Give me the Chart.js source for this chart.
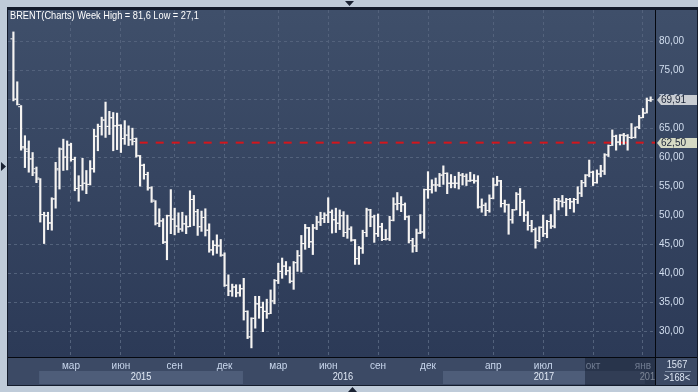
<!DOCTYPE html>
<html>
<head>
<meta charset="utf-8">
<title>BRENT week</title>
<script src="https://cdn.jsdelivr.net/npm/chart.js@4.4.1/dist/chart.umd.min.js"></script>
<style>
  html, body { margin: 0; padding: 0; background: #bfcbd9; }
  canvas { display: block; }
</style>
</head>
<body>
<canvas id="brentChart" width="698" height="392"></canvas>
<script>
// Weekly OHLC bars, oldest first
const barOpen = [
  80.4, 70.0, 68.7, 61.8, 61.4, 59.7, 58.0, 56.2, 50.1, 49.9,
  48.7, 52.8, 57.8, 61.4, 60.0, 62.1, 59.6, 54.6, 55.1, 55.5,
  55.3, 58.0, 63.6, 65.3, 66.4, 65.3, 66.8, 65.4, 65.5, 63.2,
  63.8, 63.0, 62.7, 60.2, 58.6, 57.0, 54.7, 52.4, 48.6, 49.0,
  45.4, 49.9, 49.3, 48.1, 47.6, 48.5, 48.0, 52.7, 50.6, 48.0,
  49.6, 47.4, 44.0, 44.8, 44.7, 43.1, 37.9, 36.9, 37.6, 36.6,
  37.3, 33.4, 29.0, 32.2, 34.7, 34.1, 33.4, 33.0, 35.2, 38.7,
  40.3, 41.2, 40.4, 38.6, 41.8, 43.0, 45.1, 47.8, 45.4, 47.8,
  48.8, 49.4, 50.0, 50.5, 49.2, 48.6, 49.9, 47.0, 47.6, 45.7,
  42.5, 44.3, 47.0, 50.9, 49.7, 46.8, 48.0, 45.8, 45.9, 49.1,
  51.9, 52.0, 51.8, 49.7, 45.6, 44.7, 46.9, 47.1, 54.4, 54.4,
  55.2, 55.2, 56.9, 57.2, 55.5, 55.5, 55.5, 56.9, 56.7, 55.9,
  56.0, 55.9, 51.4, 51.7, 50.8, 52.9, 55.2, 55.9, 52.0, 51.8,
  49.2, 50.9, 53.6, 52.2, 50.0, 48.2, 47.5, 45.6, 47.9, 46.8,
  48.9, 48.1, 52.5, 52.4, 52.2, 52.7, 52.3, 52.7, 53.8, 55.6,
  56.9, 57.4, 55.6, 57.1, 57.6, 60.4, 62.0, 63.6, 62.6, 63.8,
  63.7, 63.4, 63.4, 65.2, 66.8, 67.6, 69.8
];
const barHigh = [
  81.6, 73.0, 68.9, 63.7, 62.8, 60.8, 58.3, 56.3, 50.5, 50.5,
  53.0, 59.1, 61.6, 63.1, 62.8, 62.4, 60.0, 56.8, 59.8, 57.7,
  59.4, 64.8, 65.7, 66.9, 69.5, 67.9, 67.7, 67.6, 65.6, 66.3,
  65.4, 65.0, 63.3, 60.3, 58.8, 57.4, 54.9, 52.5, 51.1, 49.4,
  50.0, 54.4, 51.2, 50.4, 50.5, 49.9, 54.2, 53.4, 51.0, 50.7,
  51.1, 48.5, 45.6, 46.6, 45.8, 43.5, 39.7, 38.1, 38.0, 38.0,
  39.1, 33.5, 32.3, 36.0, 36.0, 35.0, 35.5, 37.1, 38.9, 41.7,
  42.6, 42.0, 41.1, 42.0, 43.9, 46.5, 48.4, 47.9, 48.4, 49.8,
  50.5, 50.4, 53.0, 50.9, 51.2, 50.9, 50.6, 50.0, 48.0, 45.8,
  44.6, 47.4, 51.2, 51.0, 50.0, 50.2, 48.6, 47.5, 49.8, 53.0,
  53.9, 53.2, 52.1, 49.9, 46.0, 47.6, 50.1, 54.5, 57.5, 56.1,
  56.4, 57.2, 58.5, 57.3, 57.0, 56.7, 57.4, 57.2, 57.1, 57.4,
  57.0, 56.8, 52.8, 52.1, 53.5, 56.4, 56.7, 56.0, 52.6, 51.9,
  51.0, 53.9, 54.6, 52.6, 50.6, 49.1, 47.8, 48.0, 50.0, 49.1,
  50.1, 52.9, 52.9, 53.4, 52.9, 52.9, 52.9, 54.9, 56.0, 57.0,
  59.5, 57.6, 57.8, 58.6, 60.6, 62.1, 64.7, 63.8, 63.9, 64.1,
  63.9, 65.8, 65.2, 67.2, 68.4, 70.2, 70.4
];
const barLow = [
  69.7, 69.0, 61.2, 58.2, 57.4, 56.8, 55.6, 48.8, 45.1, 47.5,
  47.4, 51.2, 54.5, 57.7, 57.8, 59.3, 54.2, 52.4, 54.3, 53.7,
  55.2, 57.4, 61.1, 63.8, 63.4, 63.9, 61.1, 61.3, 60.8, 62.2,
  62.0, 62.1, 60.0, 55.0, 56.2, 54.3, 52.2, 48.3, 48.0, 45.1,
  42.3, 46.8, 46.6, 47.0, 47.2, 46.8, 48.0, 48.2, 46.5, 47.2,
  46.4, 43.6, 43.1, 43.4, 42.9, 37.7, 36.1, 36.0, 35.9, 36.0,
  31.9, 28.7, 27.1, 30.5, 32.2, 29.9, 32.2, 33.0, 34.7, 38.2,
  39.1, 39.7, 38.3, 37.2, 40.3, 40.2, 44.1, 44.4, 43.2, 47.5,
  48.2, 48.7, 48.7, 46.9, 47.0, 47.5, 46.3, 46.0, 45.5, 41.5,
  41.5, 43.4, 46.3, 48.0, 45.3, 46.3, 45.6, 45.7, 45.6, 49.0,
  50.9, 50.6, 49.2, 45.2, 43.6, 43.7, 46.8, 46.0, 52.9, 53.8,
  54.1, 54.9, 55.3, 53.7, 54.7, 54.7, 54.5, 55.2, 55.1, 55.8,
  55.5, 51.2, 50.5, 49.9, 50.5, 52.8, 55.1, 51.4, 50.5, 46.7,
  48.6, 50.9, 49.9, 48.9, 47.4, 47.1, 44.3, 45.4, 46.3, 46.1,
  47.7, 47.8, 50.9, 51.4, 49.9, 51.1, 50.5, 52.0, 53.2, 54.9,
  56.6, 55.1, 55.5, 56.6, 57.0, 60.1, 62.0, 61.2, 62.1, 62.2,
  61.2, 63.2, 63.3, 64.9, 66.8, 67.6, 69.6
];
const barClose = [
  70.0, 69.1, 61.6, 61.0, 59.7, 57.3, 56.4, 50.1, 49.9, 48.6,
  52.8, 58.0, 61.4, 60.0, 62.1, 59.6, 54.6, 55.1, 55.5, 55.3,
  58.0, 63.6, 65.3, 66.4, 65.3, 66.8, 65.4, 65.5, 63.2, 63.8,
  63.0, 63.2, 60.3, 58.6, 57.0, 54.7, 52.6, 48.6, 49.0, 45.3,
  49.9, 49.3, 48.1, 47.6, 48.5, 48.0, 52.7, 50.6, 48.0, 49.6,
  47.4, 44.0, 44.8, 44.7, 43.1, 37.9, 36.9, 37.6, 36.6, 37.3,
  33.4, 29.0, 32.2, 34.7, 34.1, 33.4, 33.0, 35.2, 38.7, 40.3,
  41.2, 40.4, 38.6, 41.8, 43.0, 45.1, 47.8, 45.4, 47.8, 48.8,
  49.4, 50.0, 50.5, 49.2, 48.6, 49.9, 47.0, 47.6, 45.7, 42.5,
  44.3, 47.0, 50.9, 49.7, 46.8, 48.0, 45.8, 45.9, 49.1, 51.9,
  52.0, 51.8, 49.7, 45.6, 44.7, 46.9, 47.1, 54.4, 54.4, 55.2,
  55.2, 56.9, 57.2, 55.5, 55.5, 55.5, 56.9, 56.7, 55.9, 56.0,
  55.9, 51.4, 51.7, 50.8, 52.9, 55.2, 55.9, 52.0, 51.8, 49.2,
  50.9, 53.6, 52.2, 50.0, 48.2, 47.5, 45.6, 47.9, 46.8, 48.9,
  48.1, 52.5, 52.4, 52.2, 52.7, 52.3, 52.7, 53.8, 55.6, 56.9,
  57.4, 55.6, 57.1, 57.6, 60.4, 62.0, 63.6, 62.6, 63.8, 63.7,
  63.4, 63.4, 65.2, 66.8, 67.6, 69.8, 69.91
];

// x axis: month ticks sit on these bar indices
const monthPos = [15, 28, 42, 55, 69, 82, 95, 108, 125, 138, 151, 164];
const monthLabels = ["мар", "июн", "сен", "дек", "мар", "июн", "сен", "дек", "апр", "июл", "окт", "янв"];
// year bands begin at these bar positions
const yearStart = [6.7, 59.8, 111.9, 164.5];
const yearLabels = ["2015", "2016", "2017", "2018"];
const yTicks = [30, 35, 40, 45, 50, 55, 60, 65, 70, 75, 80];

const titleText = "BRENT(Charts) Week High = 81,6 Low = 27,1";
const levelPrice = 62.5;
const levelFrom = 32.9;
const lastPrice = 69.91;
const shadeFrom = 148.9;
const infoTop = "1567";
const infoBottom = ">168<";

const xMin = -1.41, xMax = 167.13;
const yMin = 25.53, yMax = 85.38;
const tickShift = 0.5;

const FONT = '"Liberation Sans", Arial, sans-serif';
Chart.defaults.font.family = FONT;
Chart.defaults.font.size = 10;

const fmt = v => v.toFixed(2).replace(".", ",");

// squeezed text, the source font is narrower than anything installed
function narrowText(ctx, text, x, y, align) {
  const k = 0.84;
  ctx.save();
  ctx.translate(x, y);
  ctx.scale(k, 1);
  ctx.textAlign = align;
  ctx.fillText(text, 0, 0);
  ctx.restore();
}

// Frame, panels, labels that are not axes
const panelPlugin = {
  id: "panel",
  beforeDraw(chart) {
    const { ctx, chartArea: a, scales: { x } } = chart;
    ctx.save();
    ctx.fillStyle = "#bfcbd9";
    ctx.fillRect(0, 0, chart.width, chart.height);
    ctx.fillStyle = "#141c2c";
    ctx.fillRect(7, 7, 691, 379);

    const g = ctx.createLinearGradient(0, a.top, 0, a.bottom);
    g.addColorStop(0, "#3f4f6a");
    g.addColorStop(1, "#2c3a57");
    ctx.fillStyle = g;
    ctx.fillRect(a.left, a.top, 697 - a.left, a.bottom - a.top);

    // bottom axis strip
    ctx.fillStyle = "#3c4a65";
    ctx.fillRect(a.left, a.bottom, 697 - a.left, 385 - a.bottom);

    // year bands
    ctx.beginPath();
    ctx.rect(a.left, a.bottom, a.right - a.left, 385 - a.bottom);
    ctx.clip();
    ctx.font = "11px " + FONT;
    ctx.textBaseline = "alphabetic";
    yearStart.forEach((s, i) => {
      const x0 = x.getPixelForValue(s);
      const x1 = i + 1 < yearStart.length ? x.getPixelForValue(yearStart[i + 1]) : a.right;
      if (i % 2 === 0) {
        ctx.fillStyle = "#4e5d79";
        ctx.fillRect(x0, 371, x1 - x0, 13);
      }
      ctx.fillStyle = "#e2eaf6";
      narrowText(ctx, yearLabels[i], (x0 + Math.min(x1, a.right)) / 2, 380, "center");
    });
    ctx.restore();
  },
  afterDraw(chart) {
    const { ctx, chartArea: a, scales: { x, y } } = chart;
    ctx.save();

    // dimmed tail of the time axis
    const sx = x.getPixelForValue(shadeFrom);
    ctx.fillStyle = "rgba(20, 30, 50, 0.5)";
    ctx.fillRect(sx, a.bottom + 1, a.right - sx, 385 - a.bottom - 1);

    // separators
    ctx.strokeStyle = "#05080f";
    ctx.lineWidth = 1;
    ctx.beginPath();
    ctx.moveTo(a.right + 0.5, a.bottom);
    ctx.lineTo(a.right + 0.5, 385);
    ctx.moveTo(a.right, a.bottom + 0.5);
    ctx.lineTo(697, a.bottom + 0.5);
    ctx.stroke();

    // title
    ctx.fillStyle = "#ffffff";
    ctx.font = "11px " + FONT;
    ctx.textBaseline = "alphabetic";
    narrowText(ctx, titleText, 10, 19, "left");

    // price markers on the right axis
    const marker = (val, fill) => {
      const py = Math.round(y.getPixelForValue(val));
      ctx.fillStyle = fill;
      ctx.beginPath();
      ctx.moveTo(657, py);
      ctx.lineTo(661, py - 5);
      ctx.lineTo(697, py - 5);
      ctx.lineTo(697, py + 5);
      ctx.lineTo(661, py + 5);
      ctx.closePath();
      ctx.fill();
      ctx.fillStyle = "#1b2438";
      ctx.font = "10px " + FONT;
      ctx.textAlign = "left";
      ctx.textBaseline = "middle";
      ctx.fillText(fmt(val), 661, py + 0.5);
    };
    marker(lastPrice, "#c9cdd2");
    marker(levelPrice, "#d6dac4");

    // info box bottom right
    ctx.fillStyle = "#dde6f3";
    ctx.font = "11px " + FONT;
    ctx.textBaseline = "alphabetic";
    narrowText(ctx, infoTop, 677, 367.5, "center");
    narrowText(ctx, infoBottom, 677, 380.5, "center");
    ctx.strokeStyle = "#7f8ea6";
    ctx.beginPath();
    ctx.moveTo(665, 371.5);
    ctx.lineTo(691, 371.5);
    ctx.stroke();

    // scroll arrows in the frame
    ctx.fillStyle = "#1a2233";
    ctx.beginPath();
    ctx.moveTo(345, 1); ctx.lineTo(354, 1); ctx.lineTo(349.5, 6); ctx.closePath();
    ctx.moveTo(1, 162); ctx.lineTo(6, 166.5); ctx.lineTo(1, 171); ctx.closePath();
    ctx.moveTo(348, 392); ctx.lineTo(357, 392); ctx.lineTo(352.5, 387); ctx.closePath();
    ctx.fill();
    ctx.restore();
  }
};

const bars = barHigh.map((h, i) => ({ x: i, y: [barLow[i], h] }));
const opens = barOpen.map((v, i) => ({ x: i - tickShift, y: v }));
const closes = barClose.map((v, i) => ({ x: i + tickShift, y: v }));

new Chart(document.getElementById("brentChart"), {
  type: "bar",
  data: {
    datasets: [
      {
        type: "line",
        data: [{ x: levelFrom, y: levelPrice }, { x: xMax, y: levelPrice }],
        borderColor: "#d3161c",
        borderWidth: 2,
        borderDash: [8, 8],
        pointRadius: 0,
        order: 3
      },
      {
        type: "bar",
        data: bars,
        backgroundColor: "#f6f4f2",
        borderWidth: 0,
        barThickness: 1.5,
        grouped: false,
        order: 2
      },
      {
        type: "scatter",
        data: opens,
        pointStyle: "line",
        pointRadius: 1,
        borderColor: "#f6f4f2",
        borderWidth: 1,
        order: 1
      },
      {
        type: "scatter",
        data: closes,
        pointStyle: "line",
        pointRadius: 1,
        borderColor: "#f6f4f2",
        borderWidth: 1,
        order: 1
      }
    ]
  },
  options: {
    responsive: false,
    animation: false,
    events: [],
    devicePixelRatio: 1,
    layout: { padding: { left: 8, top: 9, right: 1, bottom: 8 } },
    plugins: { legend: { display: false }, tooltip: { enabled: false } },
    scales: {
      x: {
        type: "linear",
        min: xMin,
        max: xMax,
        offset: false,
        afterBuildTicks: s => { s.ticks = monthPos.map(v => ({ value: v })); },
        afterFit: s => { s.height = 27; },
        grid: { color: "#53627c", drawTicks: false, offset: false },
        border: { color: "#05080f", width: 1, dash: [3, 3] },
        ticks: {
          autoSkip: false,
          maxRotation: 0,
          padding: 3,
          color: "#c9d7ed",
          font: { size: 10 },
          callback: (v, i) => monthLabels[i]
        }
      },
      y: {
        type: "linear",
        position: "right",
        min: yMin,
        max: yMax,
        afterBuildTicks: s => { s.ticks = yTicks.map(v => ({ value: v })); },
        afterFit: s => { s.width = 42; },
        grid: { color: "#53627c", drawTicks: false },
        border: { color: "#05080f", width: 1, dash: [3, 3] },
        ticks: {
          padding: 4,
          color: "#d2deef",
          font: { size: 10 },
          callback: v => fmt(v)
        }
      }
    }
  },
  plugins: [panelPlugin]
});
</script>
</body>
</html>
